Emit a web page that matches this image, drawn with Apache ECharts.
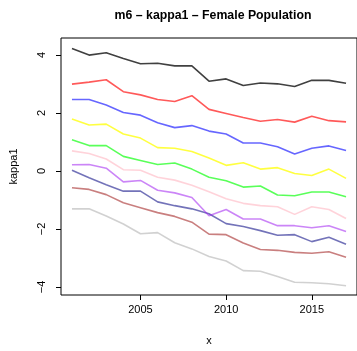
<!DOCTYPE html>
<html><head><meta charset="utf-8">
<script src="https://cdn.jsdelivr.net/npm/echarts@6/dist/echarts.min.js"></script>
<style>html,body{margin:0;padding:0;background:#fff}#c{width:357px;height:351px}</style>
</head><body><div id="c"></div>
<script>
const years = [2001,2002,2003,2004,2005,2006,2007,2008,2009,2010,2011,2012,2013,2014,2015,2016,2017];
const xTicks = [2005, 2010, 2015];
const yTicks = [-4, -2, 0, 2, 4];
const s1 = [4.22,3.99,4.07,3.87,3.69,3.71,3.62,3.62,3.09,3.17,2.94,3.03,3.00,2.91,3.12,3.12,3.02];
const s2 = [2.99,3.06,3.14,2.73,2.62,2.46,2.39,2.59,2.12,1.98,1.84,1.71,1.77,1.68,1.88,1.73,1.69];
const s3 = [2.46,2.46,2.27,2.01,1.92,1.66,1.49,1.56,1.37,1.27,0.96,0.96,0.83,0.58,0.78,0.86,0.70];
const s4 = [1.79,1.58,1.61,1.27,1.13,0.80,0.78,0.67,0.44,0.19,0.28,0.06,0.11,-0.09,-0.16,0.06,-0.26];
const s5 = [1.07,0.87,0.87,0.50,0.36,0.22,0.27,0.06,-0.22,-0.34,-0.56,-0.52,-0.83,-0.86,-0.73,-0.73,-0.89];
const s6 = [0.69,0.60,0.41,0.04,0.02,-0.22,-0.32,-0.50,-0.72,-0.96,-1.12,-1.20,-1.24,-1.50,-1.24,-1.33,-1.64];
const s7 = [0.21,0.22,0.09,-0.38,-0.33,-0.67,-0.76,-0.92,-1.55,-1.33,-1.66,-1.66,-1.89,-1.89,-1.96,-1.89,-2.09];
const s8 = [0.02,-0.24,-0.48,-0.70,-0.70,-1.07,-1.20,-1.31,-1.48,-1.82,-1.92,-2.06,-2.22,-2.20,-2.44,-2.29,-2.53];
const s9 = [-0.58,-0.64,-0.82,-1.10,-1.27,-1.44,-1.57,-1.77,-2.18,-2.20,-2.49,-2.71,-2.74,-2.81,-2.84,-2.79,-2.98];
const s10 = [-1.31,-1.31,-1.56,-1.83,-2.17,-2.13,-2.48,-2.69,-2.95,-3.11,-3.44,-3.46,-3.64,-3.84,-3.86,-3.89,-3.96];
const seriesData = [s1,s2,s3,s4,s5,s6,s7,s8,s9,s10];
const colors = ['rgba(0,0,0,0.75)','rgba(255,0,0,0.65)','rgba(0,0,255,0.6)','rgba(255,255,0,0.75)','rgba(0,255,0,0.65)',
  'rgba(255,192,203,0.7)','rgba(160,32,240,0.55)','rgba(0,0,128,0.55)','rgba(165,42,42,0.6)','rgba(190,190,190,0.7)'];
const font = 'Liberation Sans, Arial, sans-serif';
const chart = echarts.init(document.getElementById('c'));
chart.setOption({
  animation: false,
  title: {text: 'm6 \u2013 kappa1 \u2013 Female Population', left: 208, textAlign: 'center', top: 5,
    textStyle: {fontFamily: font, fontSize: 12.3, fontWeight: 'bold', color: '#000'}},
  grid: {left: 57, top: 38, width: 302, height: 264, show: true, borderColor: '#000', borderWidth: 1, backgroundColor: 'transparent'},
  xAxis: {type: 'value', min: 2000.36, max: 2017.64, name: 'x', nameLocation: 'middle', nameGap: 40,
    nameTextStyle: {fontFamily: font, fontSize: 11, color: '#000'},
    axisLine: {show: false, onZero: false}, splitLine: {show: false},
    axisTick: {show: true, inside: false, length: 5, customValues: xTicks, lineStyle: {color: '#000'}},
    axisLabel: {customValues: xTicks, margin: 9, fontFamily: font, fontSize: 11, color: '#000', formatter: v => String(v)}},
  yAxis: {type: 'value', min: -4.28, max: 4.58, name: 'kappa1', nameLocation: 'middle', nameGap: 42, nameRotate: 90,
    nameTextStyle: {fontFamily: font, fontSize: 11, color: '#000'},
    axisLine: {show: false, onZero: false}, splitLine: {show: false},
    axisTick: {show: true, inside: false, length: 5, customValues: yTicks, lineStyle: {color: '#000'}},
    axisLabel: {customValues: yTicks, rotate: 90, margin: 14, fontFamily: font, fontSize: 11, color: '#000',
      formatter: v => (v < 0 ? '\u2212' + Math.abs(v) : String(v))}},
  series: seriesData.map((d, i) => ({
    type: 'line', data: years.map((y, j) => [y, d[j]]), symbol: 'none', silent: true,
    lineStyle: {color: colors[i], width: 1.6}, z: 10 - i
  }))
});
</script></body></html>
